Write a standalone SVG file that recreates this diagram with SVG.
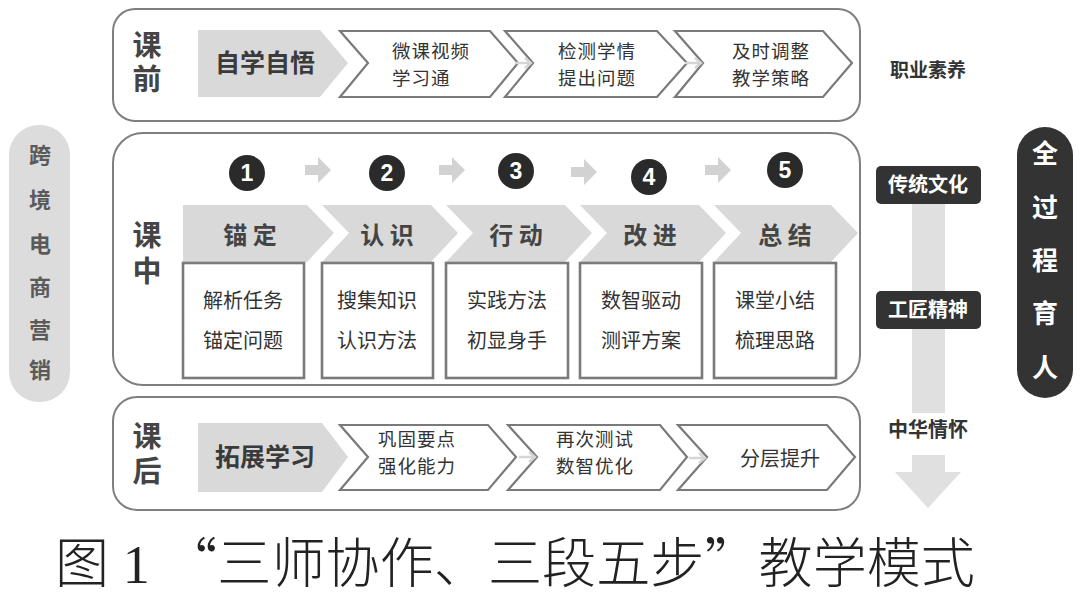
<svg xmlns="http://www.w3.org/2000/svg" width="1080" height="599" viewBox="0 0 1080 599">
<style>
text{font-family:"Noto Sans CJK SC","Liberation Sans",sans-serif;}
.panel{fill:#fff;stroke:#7f7f7f;stroke-width:2;}
.stage{font-size:29px;font-weight:700;fill:#444;writing-mode:tb;}
.gchev{fill:#d9d9d9;}
.wchev{fill:#fff;stroke:#7a7a7a;stroke-width:2.2;}
.gtxt{font-size:25px;font-weight:700;fill:#3a3a3a;text-anchor:middle;}
.wtxt{font-size:18.5px;fill:#333;letter-spacing:1px;}
.box{fill:#fff;stroke:#7a7a7a;stroke-width:2.6;}
.btxt{font-size:20px;fill:#333;text-anchor:middle;}
.htxt{font-size:24px;font-weight:700;fill:#444;text-anchor:middle;}
.circ{fill:#2a2a2a;}
.num{font-family:"Liberation Sans",sans-serif;font-size:23px;font-weight:700;fill:#fff;text-anchor:middle;}
.sarr{fill:#d2d2d2;}
.narr{fill:none;stroke:#d5d5d5;stroke-width:2.5;}
.dbox{fill:#333;}
.dtxt{font-size:20px;font-weight:700;fill:#fff;text-anchor:middle;}
.rtxt{font-size:20px;font-weight:700;fill:#333;text-anchor:middle;}
.lp{font-size:22px;font-weight:700;fill:#5a5a5a;text-anchor:middle;}
.rp{font-size:26px;font-weight:700;fill:#fff;text-anchor:middle;}
.cap{font-family:"Liberation Serif","Noto Sans CJK SC",serif;font-size:54px;font-weight:300;fill:#222;}
.capq{font-family:"Noto Sans CJK SC",serif;}
</style>

<!-- Left pill -->
<g id="left-pill">
<rect x="9" y="125" width="61" height="277" rx="30" fill="#dcdcdc"/>
<text class="lp" x="40" y="163">跨</text>
<text class="lp" x="40" y="208">境</text>
<text class="lp" x="40" y="252">电</text>
<text class="lp" x="40" y="295">商</text>
<text class="lp" x="40" y="338">营</text>
<text class="lp" x="40" y="378">销</text>
</g>

<!-- Panel: before class -->
<g id="panel-before">
<rect class="panel" x="113" y="9" width="747" height="112" rx="22"/>
<text class="stage" x="147" y="30" letter-spacing="5">课前</text>
</g>
<g id="before-self">
<polygon class="gchev" points="198,30 320,30 348,63 320,97 198,97"/>
<text class="gtxt" x="265" y="72">自学自悟</text>
</g>
<g id="before-step1">
<polygon class="wchev" points="340,31 490,31 518,63 490,97 340,97 368,63"/>
<text class="wtxt" x="392" y="58">微课视频</text>
<text class="wtxt" x="392" y="85">学习通</text>
</g>
<g id="before-step2">
<polygon class="wchev" points="505,31 657,31 687,63 657,97 505,97 533,63"/>
<text class="wtxt" x="558" y="58">检测学情</text>
<text class="wtxt" x="558" y="85">提出问题</text>
</g>
<g id="before-step3">
<polygon class="wchev" points="675,31 823,31 852,63 823,97 675,97 703,63"/>
<text class="wtxt" x="732" y="58">及时调整</text>
<text class="wtxt" x="732" y="85">教学策略</text>
</g>

<!-- Panel: in class -->
<g id="panel-in">
<rect class="panel" x="113" y="133" width="747" height="252" rx="30"/>
<text class="stage" x="147" y="220" letter-spacing="7">课中</text>
</g>

<g id="step1">
<circle class="circ" cx="247" cy="173" r="18"/>
<text class="num" x="247" y="181">1</text>
<polygon class="gchev" points="183,205 307,205 334,233 307,262 183,262"/>
<text class="htxt" x="250" y="244">锚 定</text>
<rect class="box" x="183" y="263" width="121" height="115"/>
<text class="btxt" x="243" y="308">解析任务</text>
<text class="btxt" x="243" y="348">锚定问题</text>
</g>
<g id="step2">
<circle class="circ" cx="387" cy="173" r="18"/>
<text class="num" x="387" y="181">2</text>
<polygon class="gchev" points="322,205 431,205 458,233 431,262 322,262 349,233"/>
<text class="htxt" x="387" y="244">认 识</text>
<rect class="box" x="322" y="263" width="111" height="115"/>
<text class="btxt" x="377" y="308">搜集知识</text>
<text class="btxt" x="377" y="348">认识方法</text>
</g>
<g id="step3">
<circle class="circ" cx="516" cy="171" r="18"/>
<text class="num" x="516" y="179">3</text>
<polygon class="gchev" points="446,205 565,205 592,233 565,262 446,262 473,233"/>
<text class="htxt" x="516" y="244">行 动</text>
<rect class="box" x="446" y="263" width="122" height="115"/>
<text class="btxt" x="507" y="308">实践方法</text>
<text class="btxt" x="507" y="348">初显身手</text>
</g>
<g id="step4">
<circle class="circ" cx="649" cy="177" r="18"/>
<text class="num" x="649" y="185">4</text>
<polygon class="gchev" points="580,205 699,205 726,233 699,262 580,262 607,233"/>
<text class="htxt" x="650" y="244">改 进</text>
<rect class="box" x="580" y="263" width="122" height="115"/>
<text class="btxt" x="641" y="308">数智驱动</text>
<text class="btxt" x="641" y="348">测评方案</text>
</g>
<g id="step5">
<circle class="circ" cx="785" cy="170" r="18"/>
<text class="num" x="785" y="178">5</text>
<polygon class="gchev" points="714,205 831,205 858,233 831,262 714,262 741,233"/>
<text class="htxt" x="785" y="244">总 结</text>
<rect class="box" x="714" y="263" width="122" height="115"/>
<text class="btxt" x="775" y="308">课堂小结</text>
<text class="btxt" x="775" y="348">梳理思路</text>
</g>

<!-- Panel: after class -->
<g id="panel-after">
<rect class="panel" x="113" y="397" width="747" height="113" rx="24"/>
<text class="stage" x="147" y="421" letter-spacing="6">课后</text>
</g>
<g id="after-extend">
<polygon class="gchev" points="198,423 322,423 348,457 322,492 198,492"/>
<text class="gtxt" x="265" y="466">拓展学习</text>
</g>
<g id="after-step1">
<polygon class="wchev" points="340,425 488,425 516,457 488,490 340,490 368,457"/>
<text class="wtxt" x="378" y="446">巩固要点</text>
<text class="wtxt" x="378" y="473">强化能力</text>
</g>
<g id="after-step2">
<polygon class="wchev" points="508,425 660,425 687,457 660,490 508,490 537,457"/>
<text class="wtxt" x="556" y="446">再次测试</text>
<text class="wtxt" x="556" y="473">数智优化</text>
</g>
<g id="after-step3">
<polygon class="wchev" points="678,425 827,425 855,457 827,490 678,490 707,457"/>
<text class="wtxt" x="740" y="466" style="font-size:20px;letter-spacing:0">分层提升</text>
</g>

<!-- Right side -->
<g id="label-vocational">
<text class="rtxt" x="928" y="77" style="font-size:19px">职业素养</text>
</g>

<g id="connectors">
<path class="sarr" d="M305,165 h13 v-8 l13,13 l-13,13 v-8 h-13 z"/>
<path class="sarr" d="M439,165 h13 v-8 l13,13 l-13,13 v-8 h-13 z"/>
<path class="sarr" d="M571,167 h13 v-8 l13,13 l-13,13 v-8 h-13 z"/>
<path class="sarr" d="M705,165 h13 v-8 l13,13 l-13,13 v-8 h-13 z"/>
<path class="narr" d="M515,63 h16 M525,58 l6,5 l-6,5"/>
<path class="narr" d="M685,63 h16 M695,58 l6,5 l-6,5"/>
<path class="narr" d="M519,457 h16 M529,452 l6,5 l-6,5"/>
<path class="narr" d="M689,458 h16 M699,453 l6,5 l-6,5"/>
<rect x="912" y="204" width="33" height="209" fill="#e0e0e0"/>
<polygon points="912,455 945,455 945,472 961,472 928,508 895,472 912,472" fill="#e0e0e0"/>
</g>

<g id="value-culture">
<rect class="dbox" x="876" y="166" width="105" height="38" rx="5"/>
<text class="dtxt" x="928" y="192">传统文化</text>
</g>
<g id="value-craft">
<rect class="dbox" x="876" y="291" width="105" height="38" rx="5"/>
<text class="dtxt" x="928" y="317">工匠精神</text>
</g>
<g id="value-china">
<text class="rtxt" x="928" y="437">中华情怀</text>
</g>

<g id="right-pill">
<rect x="1017" y="127" width="56" height="271" rx="28" fill="#333"/>
<text class="rp" x="1045" y="163">全</text>
<text class="rp" x="1045" y="217">过</text>
<text class="rp" x="1045" y="270">程</text>
<text class="rp" x="1045" y="323">育</text>
<text class="rp" x="1045" y="377">人</text>
</g>

<g id="caption">
<text class="cap" x="55" y="583" textLength="920" lengthAdjust="spacingAndGlyphs">图 1 <tspan class="capq">“</tspan>三师协作、三段五步<tspan class="capq">”</tspan>教学模式</text>
</g>
</svg>
